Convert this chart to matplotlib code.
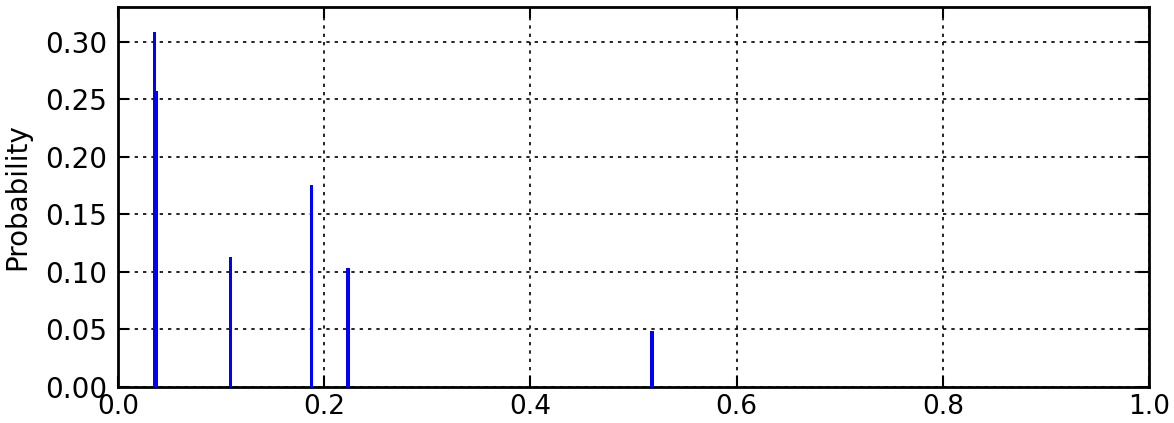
import matplotlib
matplotlib.use("Agg")
import matplotlib.pyplot as plt

# outcome values and their probabilities
values = [0.0355, 0.0375, 0.109, 0.188, 0.223, 0.518]
probs = [0.308, 0.257, 0.1125, 0.175, 0.103, 0.049]

xticks = [0.0, 0.2, 0.4, 0.6, 0.8, 1.0]
yticks = [0.00, 0.05, 0.10, 0.15, 0.20, 0.25, 0.30]

plt.rcParams["font.family"] = "DejaVu Sans"
plt.rcParams["font.size"] = 20

fig = plt.figure(figsize=(11.74, 4.23), dpi=100)
ax = fig.add_axes([118 / 1174, 1 - 387 / 423, 1031 / 1174, 380 / 423])

ax.bar(values, probs, width=0.0032, color="#0000ff", linewidth=0, zorder=3)

ax.set_xlim(0, 1.0)
ax.set_ylim(0, 0.33)
ax.set_xticks(xticks)
ax.set_xticklabels([f"{t:.1f}" for t in xticks])
ax.set_yticks(yticks)
ax.set_yticklabels([f"{t:.2f}" for t in yticks])
ax.set_ylabel("Probability", labelpad=10)

ax.grid(True, color="black", linestyle=(0, (2, 3)), linewidth=1.2)
ax.set_axisbelow(True)
for s in ax.spines.values():
    s.set_linewidth(2)
ax.tick_params(direction="in", length=8, width=1.5, top=True, right=True, pad=8)
ax.tick_params(axis="x", pad=5, labelsize=19)

fig.savefig("out.png", dpi=100)
